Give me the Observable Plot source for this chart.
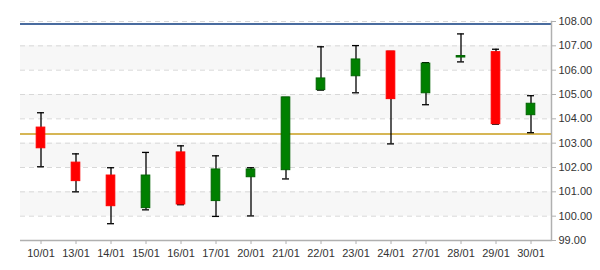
<!DOCTYPE html>
<html>
<head>
<meta charset="utf-8">
<script src="https://cdn.jsdelivr.net/npm/d3@7"></script>
<script src="https://cdn.jsdelivr.net/npm/@observablehq/plot@0.6"></script>
<style>
  html, body { margin: 0; padding: 0; background: #fff; }
  svg { display: block; }
</style>
</head>
<body>
<div id="chart"></div>
<script>
const dates = ["10/01","13/01","14/01","15/01","16/01","17/01","20/01","21/01","22/01","23/01","24/01","27/01","28/01","29/01","30/01"];
const open  = [103.64,102.20,101.67,100.33,102.62,100.62,101.60,101.89,105.18,105.75,106.77,105.05,106.52,106.74,104.15];
const high  = [104.25,102.56,101.99,102.62,102.89,102.48,101.99,104.88,106.96,107.01,106.77,106.31,107.49,106.86,104.95];
const low   = [102.03,101.00, 99.69,100.26,100.47, 99.99,100.01,101.53,105.18,105.07,102.97,104.58,106.34,103.78,103.43];
const close = [102.79,101.44,100.41,101.67,100.48,101.92,101.92,104.88,105.66,106.44,104.81,106.27,106.58,103.78,104.62];
const yTicks = [99,100,101,102,103,104,105,106,107,108];
const bandStarts = [100,102,104,106];
const refHigh = [107.9];
const refLow = [103.38];

const data = dates.map((d, i) => ({date: d, open: open[i], high: high[i], low: low[i], close: close[i], up: close[i] >= open[i]}));
const bands = bandStarts.map(b => ({y1: b, y2: b + 1}));

const chart = Plot.plot({
  width: 600,
  height: 270,
  marginLeft: 20,
  marginRight: 49,
  marginTop: 21,
  marginBottom: 30,
  style: {fontFamily: "'Liberation Sans', Arial, sans-serif", fontSize: "11px", color: "#333", background: "#fff"},
  x: {type: "band", domain: dates, padding: 0, label: null},
  y: {domain: [99, 108], label: null},
  marks: [
    Plot.rect(bands, {y1: "y1", y2: "y2", fill: "#f7f7f7"}),
    Plot.gridY(yTicks.slice(1), {stroke: "#d8d8d8", strokeOpacity: 1, strokeDasharray: "5,4"}),
    Plot.ruleY(refHigh, {stroke: "#0e3b7f", strokeWidth: 1.5}),
    Plot.ruleY(refLow, {stroke: "#c99e1c", strokeWidth: 1.5}),
    Plot.ruleY([99], {stroke: "#b0b0b0", strokeWidth: 1.5}),
    Plot.frame({anchor: "right", stroke: "#b0b0b0", strokeWidth: 1.5}),
    Plot.axisY({anchor: "right", ticks: yTicks, tickFormat: d3.format(".2f"), tickSize: 4, tickPadding: 3, stroke: "#b0b0b0", fill: "#333"}),
    Plot.axisX({tickSize: 4, tickPadding: 5, stroke: "#b0b0b0", fill: "#333"}),
    Plot.ruleX(data, {x: "date", y1: "low", y2: "high", stroke: "#000", strokeWidth: 1.3}),
    Plot.tickY(data, {x: "date", y: "high", stroke: "#000", strokeWidth: 1.3, insetLeft: 14, insetRight: 14}),
    Plot.tickY(data, {x: "date", y: "low", stroke: "#000", strokeWidth: 1.3, insetLeft: 14, insetRight: 14}),
    Plot.barY(data, {x: "date", y1: "open", y2: "close", fill: d => d.up ? "#008000" : "#ff0000", stroke: d => d.up ? "#006400" : "#ff0000", strokeWidth: 1, insetLeft: 13.2, insetRight: 13.2})
  ]
});
document.getElementById("chart").appendChild(chart);
</script>
</body>
</html>
